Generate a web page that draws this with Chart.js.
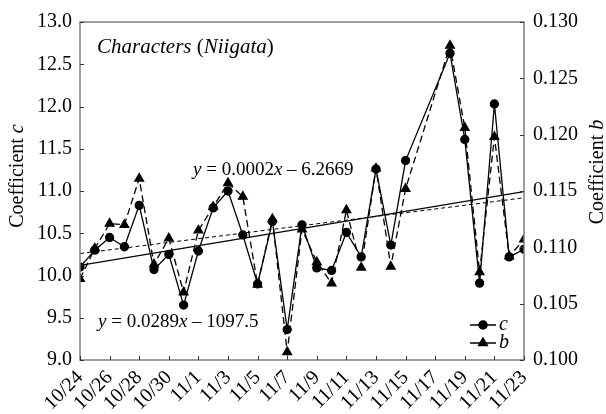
<!DOCTYPE html>
<html>
<head>
<meta charset="utf-8">
<script src="https://cdn.jsdelivr.net/npm/chart.js@4.4.1/dist/chart.umd.min.js"></script>
<style>
  html, body { margin: 0; padding: 0; background: #fff; }
  #wrap { width: 606px; height: 414px; }
  .probe { position: absolute; left: -999px; top: 0; font-family: 'Liberation Serif'; }
</style>
</head>
<body>
<div id="wrap"><canvas id="chart" width="606" height="414"></canvas></div>
<span class="probe">Coefficient <i>c</i> 0.130</span>
<script>
// data (11/16 and 11/17 have no samples)
const dates = ['10/24', '10/25', '10/26', '10/27', '10/28', '10/29', '10/30', '10/31',
    '11/1', '11/2', '11/3', '11/4', '11/5', '11/6', '11/7', '11/8', '11/9', '11/10',
    '11/11', '11/12', '11/13', '11/14', '11/15', '11/16', '11/17', '11/18', '11/19',
    '11/20', '11/21', '11/22', '11/23'];
const cVals = [10.10, 10.30, 10.45, 10.34, 10.83, 10.07, 10.25, 9.65,
    10.29, 10.80, 11.00, 10.48, 9.90, 10.64, 9.36, 10.60, 10.09, 10.06,
    10.51, 10.22, 11.26, 10.36, 11.36, null, null, 12.63, 11.61,
    9.91, 12.03, 10.22, 10.31];
const bVals = [0.1072, 0.1099, 0.1121, 0.1120, 0.1161, 0.1085, 0.1108, 0.1060,
    0.1115, 0.1136, 0.1157, 0.1145, 0.1067, 0.1125, 0.1007, 0.1116, 0.1087, 0.1068,
    0.1133, 0.1082, 0.1170, 0.1083, 0.1152, null, null, 0.1279, 0.1206,
    0.1078, 0.1198, 0.1092, 0.1107];
const cTicks = [9.0, 9.5, 10.0, 10.5, 11.0, 11.5, 12.0, 12.5, 13.0];
const bTicks = [0.100, 0.105, 0.110, 0.115, 0.120, 0.125, 0.130];
const eqC = 'y = 0.0289x \u2013 1097.5';
const eqB = 'y = 0.0002x \u2013 6.2669';

const serif = "'Liberation Serif', serif";

const toPts = vals => vals.map((v, i) => ({ x: i, y: v }));

// least squares line through the non-empty points
function trend(vals) {
    const pts = toPts(vals).filter(p => p.y !== null);
    const n = pts.length;
    let sx = 0, sy = 0, sxx = 0, sxy = 0;
    pts.forEach(p => { sx += p.x; sy += p.y; sxx += p.x * p.x; sxy += p.x * p.y; });
    const k = (n * sxy - sx * sy) / (n * sxx - sx * sx);
    const b0 = (sy - k * sx) / n;
    const last = vals.length - 1;
    return [{ x: 0, y: b0 }, { x: last, y: b0 + k * last }];
}

// draws a string piece by piece, italic where asked
function rich(ctx, parts, x, y, size) {
    ctx.textBaseline = 'middle';
    ctx.textAlign = 'left';
    parts.forEach(p => {
        ctx.font = (p.i ? 'italic ' : '') + size + 'px ' + serif;
        ctx.fillText(p.t, x, y);
        x += ctx.measureText(p.t).width;
    });
}
function richWidth(ctx, parts, size) {
    let w = 0;
    parts.forEach(p => {
        ctx.font = (p.i ? 'italic ' : '') + size + 'px ' + serif;
        w += ctx.measureText(p.t).width;
    });
    return w;
}
function eqParts(s) {
    const m = s.match(/^y( = [\d.]+)x( .*)$/);
    return [{ t: 'y', i: 1 }, { t: m[1] }, { t: 'x', i: 1 }, { t: m[2] }];
}

const decor = {
    id: 'decor',
    afterDraw(chart) {
        const { ctx, chartArea: a, scales } = chart;
        ctx.save();
        // frame
        ctx.strokeStyle = '#808080';
        ctx.lineWidth = 1.5;
        ctx.strokeRect(a.left, a.top, a.right - a.left, a.bottom - a.top);
        // inward ticks
        ctx.strokeStyle = '#333';
        ctx.lineWidth = 1;
        ctx.beginPath();
        for (let i = 0; i < dates.length; i += 2) {
            const px = Math.round(scales.x.getPixelForValue(i)) + 0.5;
            ctx.moveTo(px, a.bottom); ctx.lineTo(px, a.bottom - 4);
        }
        cTicks.forEach(v => {
            const py = Math.round(scales.yc.getPixelForValue(v)) + 0.5;
            ctx.moveTo(a.left, py); ctx.lineTo(a.left + 4, py);
        });
        bTicks.forEach(v => {
            const py = Math.round(scales.yb.getPixelForValue(v)) + 0.5;
            ctx.moveTo(a.right, py); ctx.lineTo(a.right - 4, py);
        });
        ctx.stroke();

        ctx.fillStyle = '#000';
        // panel title
        rich(ctx, [{ t: 'Characters ', i: 1 }, { t: '(' }, { t: 'Niigata', i: 1 }, { t: ')' }],
            a.left + 17, a.top + 25, 21);
        // trend equations
        rich(ctx, eqParts(eqC), a.left + 18, 322, 19);
        rich(ctx, eqParts(eqB), 193, 170, 19);

        // legend
        const lx = a.right - 54, ly = [a.bottom - 35, a.bottom - 17];
        chart.data.datasets.slice(0, 2).forEach((ds, k) => {
            ctx.strokeStyle = '#000';
            ctx.lineWidth = 1.5;
            ctx.setLineDash([]);
            ctx.beginPath();
            ctx.moveTo(lx, ly[k]); ctx.lineTo(lx + 26, ly[k]);
            ctx.stroke();
            Chart.helpers.drawPoint(ctx, { pointStyle: ds.pointStyle, radius: ds.pointRadius, borderWidth: 1 }, lx + 13, ly[k]);
            ctx.fill();
            rich(ctx, [{ t: ds.label, i: 1 }], lx + 29, ly[k], 20);
        });

        // axis titles
        const tl = [{ t: 'Coefficient ' }, { t: 'c', i: 1 }];
        const tr = [{ t: 'Coefficient ' }, { t: 'b', i: 1 }];
        ctx.translate(18, 176);
        ctx.rotate(-Math.PI / 2);
        rich(ctx, tl, -richWidth(ctx, tl, 20) / 2, 0, 20);
        ctx.setTransform(1, 0, 0, 1, 0, 0);
        ctx.translate(598, 172);
        ctx.rotate(-Math.PI / 2);
        rich(ctx, tr, -richWidth(ctx, tr, 20) / 2, 0, 20);
        ctx.restore();
    }
};

function draw() {
    Chart.defaults.font.family = serif;
    Chart.defaults.font.size = 20;
    Chart.defaults.color = '#000';
    const noGrid = { display: false, drawTicks: false };
    new Chart(document.getElementById('chart'), {
        type: 'line',
        data: {
            datasets: [
                {
                    label: 'c', data: toPts(cVals), yAxisID: 'yc',
                    borderColor: '#000', backgroundColor: '#000', borderWidth: 1.3,
                    pointStyle: 'circle', pointRadius: 4, spanGaps: true
                },
                {
                    label: 'b', data: toPts(bVals), yAxisID: 'yb',
                    borderColor: '#000', backgroundColor: '#000', borderWidth: 1.3,
                    borderDash: [7, 4],
                    pointStyle: 'triangle', pointRadius: 5, spanGaps: true
                },
                {
                    label: 'c trend', data: trend(cVals), yAxisID: 'yc',
                    borderColor: '#000', borderWidth: 1.2, pointRadius: 0
                },
                {
                    label: 'b trend', data: trend(bVals), yAxisID: 'yb',
                    borderColor: '#000', borderWidth: 1, borderDash: [4, 3], pointRadius: 0
                }
            ]
        },
        options: {
            responsive: false,
            animation: false,
            layout: { padding: { top: 22, right: 0, left: 0, bottom: 0 } },
            plugins: { legend: { display: false }, tooltip: { enabled: false } },
            scales: {
                x: {
                    type: 'linear', min: 0, max: dates.length - 1,
                    grid: noGrid, border: { display: false },
                    ticks: {
                        stepSize: 2, autoSkip: false, maxRotation: 45, minRotation: 45, padding: 6,
                        callback: v => dates[v]
                    },
                    afterFit: s => { s.height = 54; }
                },
                yc: {
                    position: 'left', min: 9, max: 13,
                    grid: noGrid, border: { display: false },
                    ticks: { stepSize: 0.5, padding: 8, callback: v => v.toFixed(1) },
                    afterFit: s => { s.width = 80; }
                },
                yb: {
                    position: 'right', min: 0.1, max: 0.13,
                    grid: noGrid, border: { display: false },
                    ticks: { stepSize: 0.005, padding: 9, callback: v => v.toFixed(3) },
                    afterFit: s => { s.width = 82; }
                }
            }
        },
        plugins: [decor]
    });
}

Promise.all([
    document.fonts.load("20px 'Liberation Serif'"),
    document.fonts.load("italic 20px 'Liberation Serif'")
]).then(draw, draw);
</script>
</body>
</html>
